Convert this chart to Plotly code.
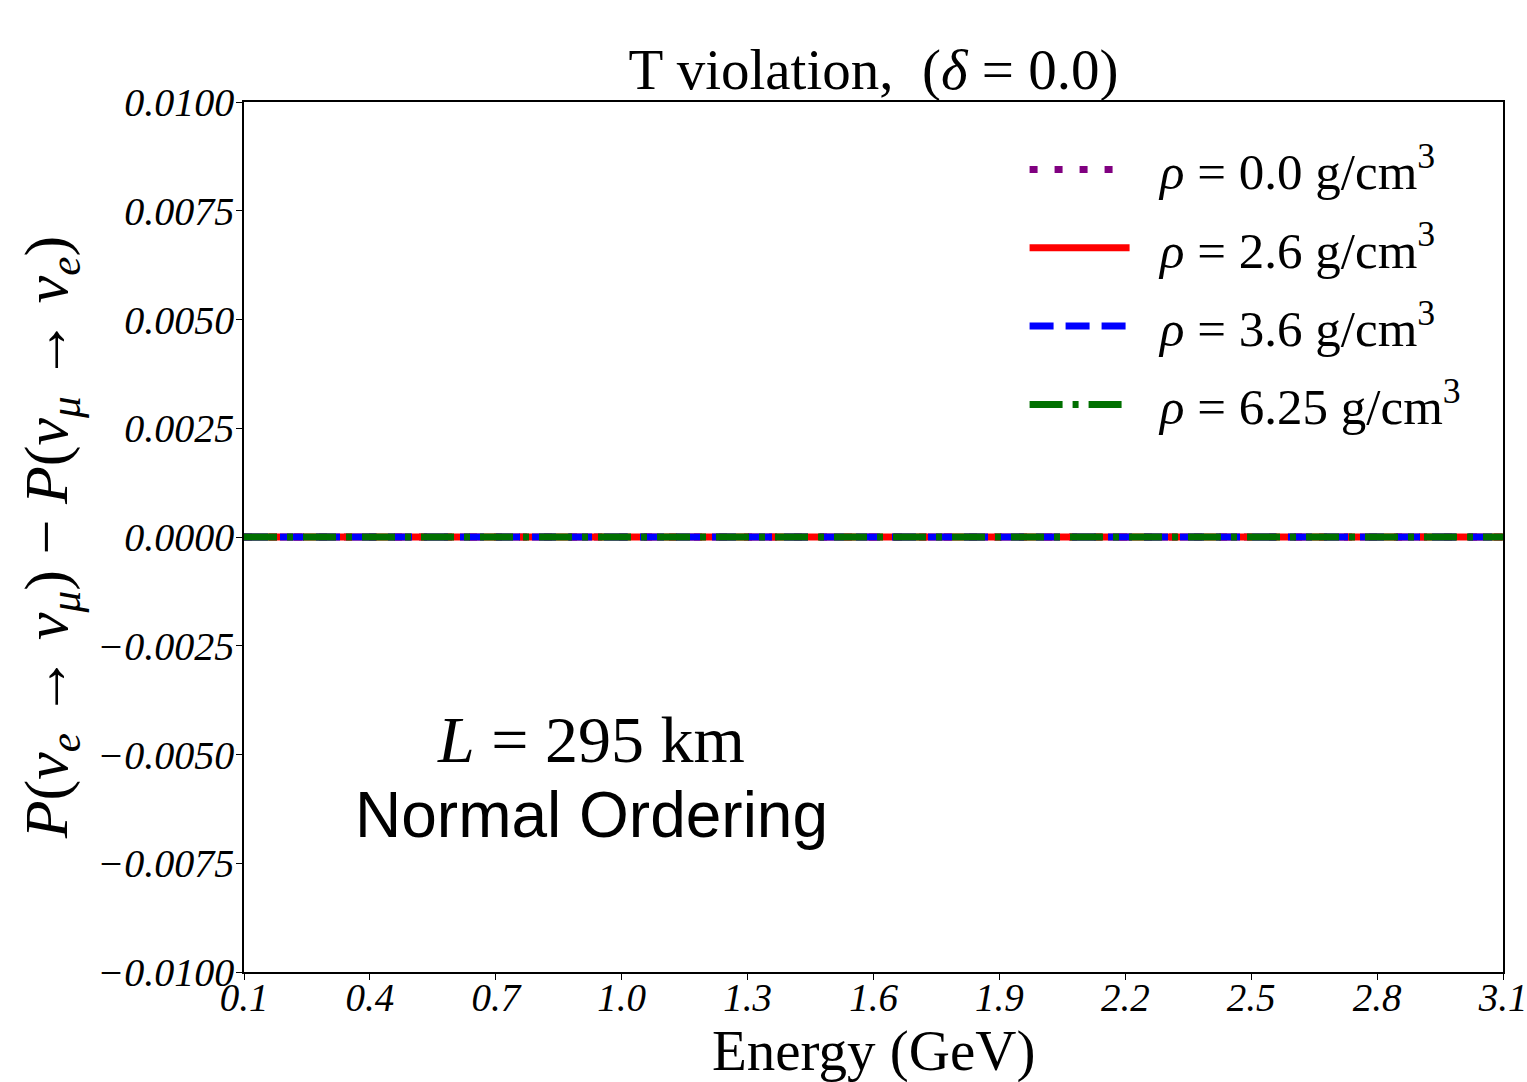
import plotly.graph_objects as go

# Data
energy_gev = [0.1, 0.4, 0.7, 1.0, 1.3, 1.6, 1.9, 2.2, 2.5, 2.8, 3.1]
dp_rho_0_0 = [0.0, 0.0, 0.0, 0.0, 0.0, 0.0, 0.0, 0.0, 0.0, 0.0, 0.0]
dp_rho_2_6 = [0.0, 0.0, 0.0, 0.0, 0.0, 0.0, 0.0, 0.0, 0.0, 0.0, 0.0]
dp_rho_3_6 = [0.0, 0.0, 0.0, 0.0, 0.0, 0.0, 0.0, 0.0, 0.0, 0.0, 0.0]
dp_rho_6_25 = [0.0, 0.0, 0.0, 0.0, 0.0, 0.0, 0.0, 0.0, 0.0, 0.0, 0.0]

densities = ["0.0", "2.6", "3.6", "6.25"]
series = [dp_rho_0_0, dp_rho_2_6, dp_rho_3_6, dp_rho_6_25]
colors = ["#800080", "#ff0000", "#0000ff", "#007000"]
dashes = ["8px,17px", "solid", "24px,12px", "33px,10px,6px,10px"]

x_ticks = [0.1, 0.4, 0.7, 1.0, 1.3, 1.6, 1.9, 2.2, 2.5, 2.8, 3.1]
y_ticks = [-0.01, -0.0075, -0.005, -0.0025, 0.0, 0.0025, 0.005, 0.0075, 0.01]

SERIF = "Liberation Serif, DejaVu Serif, serif"

W, H = 1527, 1082
ML, MR, MT, MB = 244, 24, 102, 110

fig = go.Figure()
for i, (d, ys, c, dash) in enumerate(zip(densities, series, colors, dashes)):
    fig.add_trace(go.Scatter(
        x=energy_gev, y=ys, mode="lines",
        name="\u00a0\u00a0" + f"<i>ρ</i> = {d} g/cm<sup>3</sup>",
        legendgroup=f"g{i}",
        line=dict(color=c, width=7, dash=dash),
    ))

fig.update_layout(
    width=W, height=H,
    paper_bgcolor="white", plot_bgcolor="white",
    margin=dict(l=ML, r=MR, t=MT, b=MB, autoexpand=False),
    title=dict(
        text="T violation,  (<i>δ</i> = 0.0)",
        x=(ML + (W - MR - ML) / 2) / W, xanchor="center",
        y=1 - 69 / H, yanchor="middle",
        font=dict(family=SERIF, size=57, color="black"),
    ),
    legend=dict(
        x=0.62, y=0.968, xanchor="left", yanchor="top",
        font=dict(family=SERIF, size=51, color="black"),
        bgcolor="rgba(255,255,255,0)",
        tracegroupgap=9,
        itemwidth=100,
    ),
    showlegend=True,
)

fig.update_xaxes(
    range=[0.1, 3.1], tickvals=x_ticks, ticktext=[f"{v:.1f}" for v in x_ticks],
    showgrid=False, zeroline=False, automargin=False,
    showline=True, linecolor="black", linewidth=1.5, mirror=True,
    ticks="outside", ticklen=6, tickcolor="black",
    ticklabeloverflow="allow", ticklabelstandoff=-16,
    tickfont=dict(family=SERIF, size=39, color="black", style="italic"),
)
fig.update_yaxes(
    range=[-0.01, 0.01], tickvals=y_ticks,
    ticktext=[("−" if v < 0 else "") + f"{abs(v):.4f}" for v in y_ticks],
    showgrid=False, zeroline=False, automargin=False,
    showline=True, linecolor="black", linewidth=1.5, mirror=True,
    ticks="outside", ticklen=6, tickcolor="black",
    ticklabeloverflow="allow", ticklabelstandoff=-6,
    tickfont=dict(family=SERIF, size=40, color="black", style="italic"),
    title=dict(
        text="<i>P</i>(<i>ν</i><sub><i>e</i></sub> → <i>ν</i><sub><i>μ</i></sub>) − <i>P</i>(<i>ν</i><sub><i>μ</i></sub> → <i>ν</i><sub><i>e</i></sub>)",
        font=dict(family=SERIF, size=62, color="black"), standoff=10,
    ),
)

# x-axis title
fig.add_annotation(
    x=0.5, y=-0.091, xref="paper", yref="paper", xanchor="center", yanchor="middle",
    text="Energy (GeV)", showarrow=False,
    font=dict(family=SERIF, size=57, color="black"),
)

fig.add_annotation(
    x=0.276, y=0.267, xref="paper", yref="paper", xanchor="center", yanchor="middle",
    text="<i>L</i> = 295 km", showarrow=False,
    font=dict(family=SERIF, size=66, color="black"),
)
fig.add_annotation(
    x=0.276, y=0.18, xref="paper", yref="paper", xanchor="center", yanchor="middle",
    text="Normal Ordering", showarrow=False,
    font=dict(family="Liberation Sans, Arial, sans-serif", size=64, color="black"),
)

fig.write_html(
    "out.html",
    config={"displayModeBar": False},
    post_script="document.body.style.margin='0';document.body.style.overflow='hidden';",
)
